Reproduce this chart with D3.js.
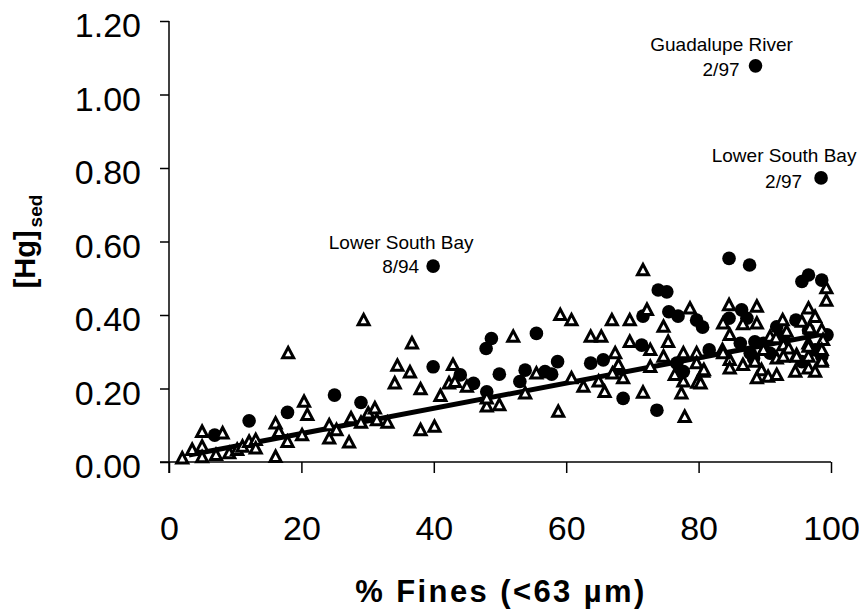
<!DOCTYPE html>
<html>
<head>
<meta charset="utf-8">
<script src="https://cdn.jsdelivr.net/npm/d3@7"></script>
<style>
  body { margin: 0; background: #fff; }
  svg { display: block; font-family: "Liberation Sans", Arial, sans-serif; }
</style>
</head>
<body>
<div id="chart"></div>
<script>
// axis ticks
const xTicks = [0, 20, 40, 60, 80, 100];
const yTicks = [0, 0.2, 0.4, 0.6, 0.8, 1.0, 1.2];

// open triangles: [% fines, Hg]
const triangles = [
  [2.0, 0.010], [3.5, 0.033], [5.0, 0.082], [5.0, 0.042], [5.0, 0.013], [8.1, 0.078],
  [7.1, 0.019], [9.1, 0.024], [10.3, 0.033], [11.1, 0.042], [12.1, 0.055], [13.1, 0.060],
  [13.1, 0.037], [16.1, 0.014], [16.1, 0.105], [16.6, 0.082], [17.9, 0.055], [18.0, 0.296],
  [20.4, 0.164], [20.9, 0.128], [20.1, 0.073], [24.2, 0.064], [24.2, 0.100], [25.3, 0.087],
  [27.2, 0.053], [27.5, 0.119], [29.4, 0.386], [29.0, 0.107], [30.1, 0.132], [31.1, 0.146],
  [31.4, 0.114], [33.0, 0.107], [36.7, 0.323], [34.5, 0.262], [36.4, 0.244], [34.1, 0.214],
  [38.0, 0.198], [38.0, 0.087], [40.1, 0.096], [41.0, 0.180], [42.9, 0.264], [42.3, 0.214],
  [43.2, 0.218], [45.0, 0.205], [48.0, 0.151], [48.0, 0.173], [49.9, 0.155], [52.0, 0.341],
  [53.8, 0.187], [55.5, 0.241], [59.1, 0.400], [60.8, 0.386], [58.8, 0.137], [60.8, 0.228],
  [62.6, 0.205], [63.7, 0.341], [65.3, 0.341], [64.9, 0.219], [65.8, 0.191], [66.9, 0.386],
  [67.4, 0.296], [67.9, 0.264], [67.0, 0.241], [68.6, 0.228], [69.6, 0.386], [69.6, 0.327],
  [71.6, 0.522], [72.2, 0.414], [72.7, 0.305], [72.7, 0.259], [71.6, 0.189], [74.7, 0.368],
  [75.4, 0.327], [74.7, 0.287], [77.7, 0.296], [76.4, 0.237], [77.7, 0.219], [79.7, 0.296],
  [79.7, 0.269], [80.7, 0.246], [79.8, 0.216], [77.4, 0.187], [77.9, 0.123], [78.7, 0.418],
  [84.6, 0.427], [88.8, 0.423], [83.7, 0.377], [86.7, 0.375], [88.8, 0.377], [84.7, 0.346],
  [92.7, 0.386], [96.6, 0.418], [95.6, 0.382], [97.6, 0.395], [99.3, 0.473], [99.3, 0.439],
  [90.8, 0.341], [93.3, 0.355], [96.8, 0.364], [98.6, 0.359], [98.8, 0.332], [96.6, 0.323],
  [91.7, 0.337], [83.6, 0.305], [89.8, 0.305], [92.8, 0.318], [93.6, 0.309], [94.8, 0.291],
  [91.8, 0.282], [96.6, 0.287], [98.6, 0.278], [80.8, 0.250], [80.3, 0.214], [84.7, 0.278],
  [84.7, 0.255], [86.7, 0.264], [89.5, 0.250], [88.8, 0.228], [90.5, 0.232], [91.8, 0.237],
  [94.6, 0.246], [96.6, 0.255], [97.6, 0.246], [92.8, 0.287], [88.5, 0.273], [98.6, 0.305],
  [96.6, 0.314], [83.7, 0.296], [98.6, 0.273], [94.8, 0.287]
];

// filled circles: [% fines, Hg]
const dots = [
  [6.9, 0.073], [12.1, 0.112], [17.9, 0.135], [25.0, 0.182], [29.0, 0.162], [39.9, 0.533],
  [39.9, 0.259], [44.0, 0.237], [46.0, 0.214], [47.9, 0.309], [48.7, 0.336], [48.0, 0.191],
  [49.9, 0.239], [53.0, 0.219], [53.8, 0.250], [55.5, 0.350], [56.8, 0.246], [57.8, 0.239],
  [58.7, 0.273], [63.7, 0.269], [65.6, 0.278], [68.6, 0.173], [71.6, 0.397], [71.4, 0.318],
  [73.7, 0.141], [73.9, 0.468], [75.2, 0.463], [75.5, 0.409], [76.9, 0.397], [79.7, 0.386],
  [80.6, 0.367], [76.7, 0.269], [77.7, 0.246], [81.6, 0.305], [84.6, 0.554], [87.7, 0.536],
  [84.6, 0.391], [86.5, 0.414], [87.3, 0.391], [86.3, 0.323], [88.5, 0.327], [87.8, 0.296],
  [89.8, 0.323], [90.8, 0.296], [91.8, 0.368], [92.8, 0.341], [94.7, 0.386], [95.6, 0.491],
  [96.6, 0.509], [98.6, 0.495], [96.6, 0.359], [95.6, 0.273], [97.6, 0.305], [98.6, 0.287],
  [99.4, 0.346], [88.3, 0.282], [88.6, 1.078], [98.5, 0.773]
];

// regression line ends
const fitX = [3, 100];
const fitY = [0.019, 0.352];

// labelled samples
const noteX = [88.6, 98.5, 39.9];
const noteY = [1.078, 0.773, 0.533];
const noteSite = ['Guadalupe River', 'Lower South Bay', 'Lower South Bay'];
const noteDate = ['2/97', '2/97', '8/94'];

// label placement around each labelled dot (pixels)
const noteLayout = [
  { siteDx: -34, siteDy: -15, dateDx: -16, dateDy: 10 },
  { siteDx: -37, siteDy: -16, dateDx: -19, dateDy: 10 },
  { siteDx: -32, siteDy: -17, dateDx: -14, dateDy: 7 }
];

const width = 859;
const height = 614;

const svg = d3.select('#chart')
              .append('svg')
              .attr('width', width)
              .attr('height', height);

const x = d3.scaleLinear().domain([0, 100]).range([169, 831]);
const y = d3.scaleLinear().domain([0, 1.2]).range([462, 21]);

// axes
const yAxis = svg.append('g')
                 .attr('transform', `translate(${x(0)},0)`)
                 .call(d3.axisLeft(y)
                         .tickValues(yTicks)
                         .tickSize(9)
                         .tickSizeOuter(0)
                         .tickPadding(19)
                         .tickFormat(d3.format('.2f')));
yAxis.select('.domain').remove();
yAxis.selectAll('.tick line').attr('stroke', '#000').attr('stroke-width', 1.5);
yAxis.selectAll('.tick text')
     .attr('font-size', 34)
     .attr('font-family', '"Liberation Sans", Arial, sans-serif')
     .attr('fill', '#000')
     .attr('dy', '0.47em');

const xAxis = svg.append('g')
                 .attr('transform', `translate(0,${y(0)})`)
                 .call(d3.axisBottom(x)
                         .tickValues(xTicks)
                         .tickSize(11)
                         .tickSizeOuter(0)
                         .tickFormat(d3.format('d')));
xAxis.select('.domain').remove();
xAxis.selectAll('.tick line').attr('stroke', '#000').attr('stroke-width', 1.5);
xAxis.selectAll('.tick text')
     .attr('font-size', 34)
     .attr('font-family', '"Liberation Sans", Arial, sans-serif')
     .attr('fill', '#000')
     .attr('y', 78)
     .attr('dy', 0);

// axis lines, each running past the origin by a tick length
svg.append('line')
   .attr('x1', x(0)).attr('x2', x(0))
   .attr('y1', y(1.2)).attr('y2', y(0) + 11)
   .attr('stroke', '#000').attr('stroke-width', 1.5);
svg.append('line')
   .attr('x1', x(0) - 9).attr('x2', x(100))
   .attr('y1', y(0)).attr('y2', y(0))
   .attr('stroke', '#000').attr('stroke-width', 1.5);

// titles
svg.append('text')
   .attr('x', (x(0) + x(100)) / 2 + 1)
   .attr('y', 602)
   .attr('text-anchor', 'middle')
   .attr('font-size', 31)
   .attr('font-weight', 'bold')
   .attr('letter-spacing', 2.4)
   .text('% Fines (<63 µm)');

const yTitle = svg.append('text')
                  .attr('transform', `translate(35,${(y(0) + y(1.2)) / 2}) rotate(-90)`)
                  .attr('text-anchor', 'middle')
                  .attr('font-weight', 'bold');
yTitle.append('tspan').attr('font-size', 29).text('[Hg]');
yTitle.append('tspan').attr('font-size', 19).attr('dx', 3).attr('dy', 7).text('sed');

// markers
const plot = svg.append('g');

plot.selectAll('circle.dot')
    .data(dots)
    .join('circle')
    .attr('class', 'dot')
    .attr('cx', d => x(d[0]))
    .attr('cy', d => y(d[1]))
    .attr('r', 6.8)
    .attr('fill', '#000');

plot.append('line')
    .attr('x1', x(fitX[0])).attr('y1', y(fitY[0]))
    .attr('x2', x(fitX[1])).attr('y2', y(fitY[1]))
    .attr('stroke', '#000')
    .attr('stroke-width', 5);

const triPath = 'M0,-5.8L5.5,4.6L-5.5,4.6Z';
plot.selectAll('path.tri')
    .data(triangles)
    .join('path')
    .attr('class', 'tri')
    .attr('d', triPath)
    .attr('transform', d => `translate(${x(d[0])},${y(d[1])})`)
    .attr('fill', '#fff')
    .attr('stroke', '#000')
    .attr('stroke-width', 3)
    .attr('stroke-linejoin', 'miter');

// annotations
const notes = svg.append('g')
                 .attr('font-size', 19)
                 .attr('fill', '#000');
noteX.forEach((nx, i) => {
  const px = x(nx);
  const py = y(noteY[i]);
  const lay = noteLayout[i];
  notes.append('text')
       .attr('x', px + lay.siteDx)
       .attr('y', py + lay.siteDy)
       .attr('text-anchor', 'middle')
       .text(noteSite[i]);
  notes.append('text')
       .attr('x', px + lay.dateDx)
       .attr('y', py + lay.dateDy)
       .attr('text-anchor', 'end')
       .text(noteDate[i]);
});
</script>
</body>
</html>
